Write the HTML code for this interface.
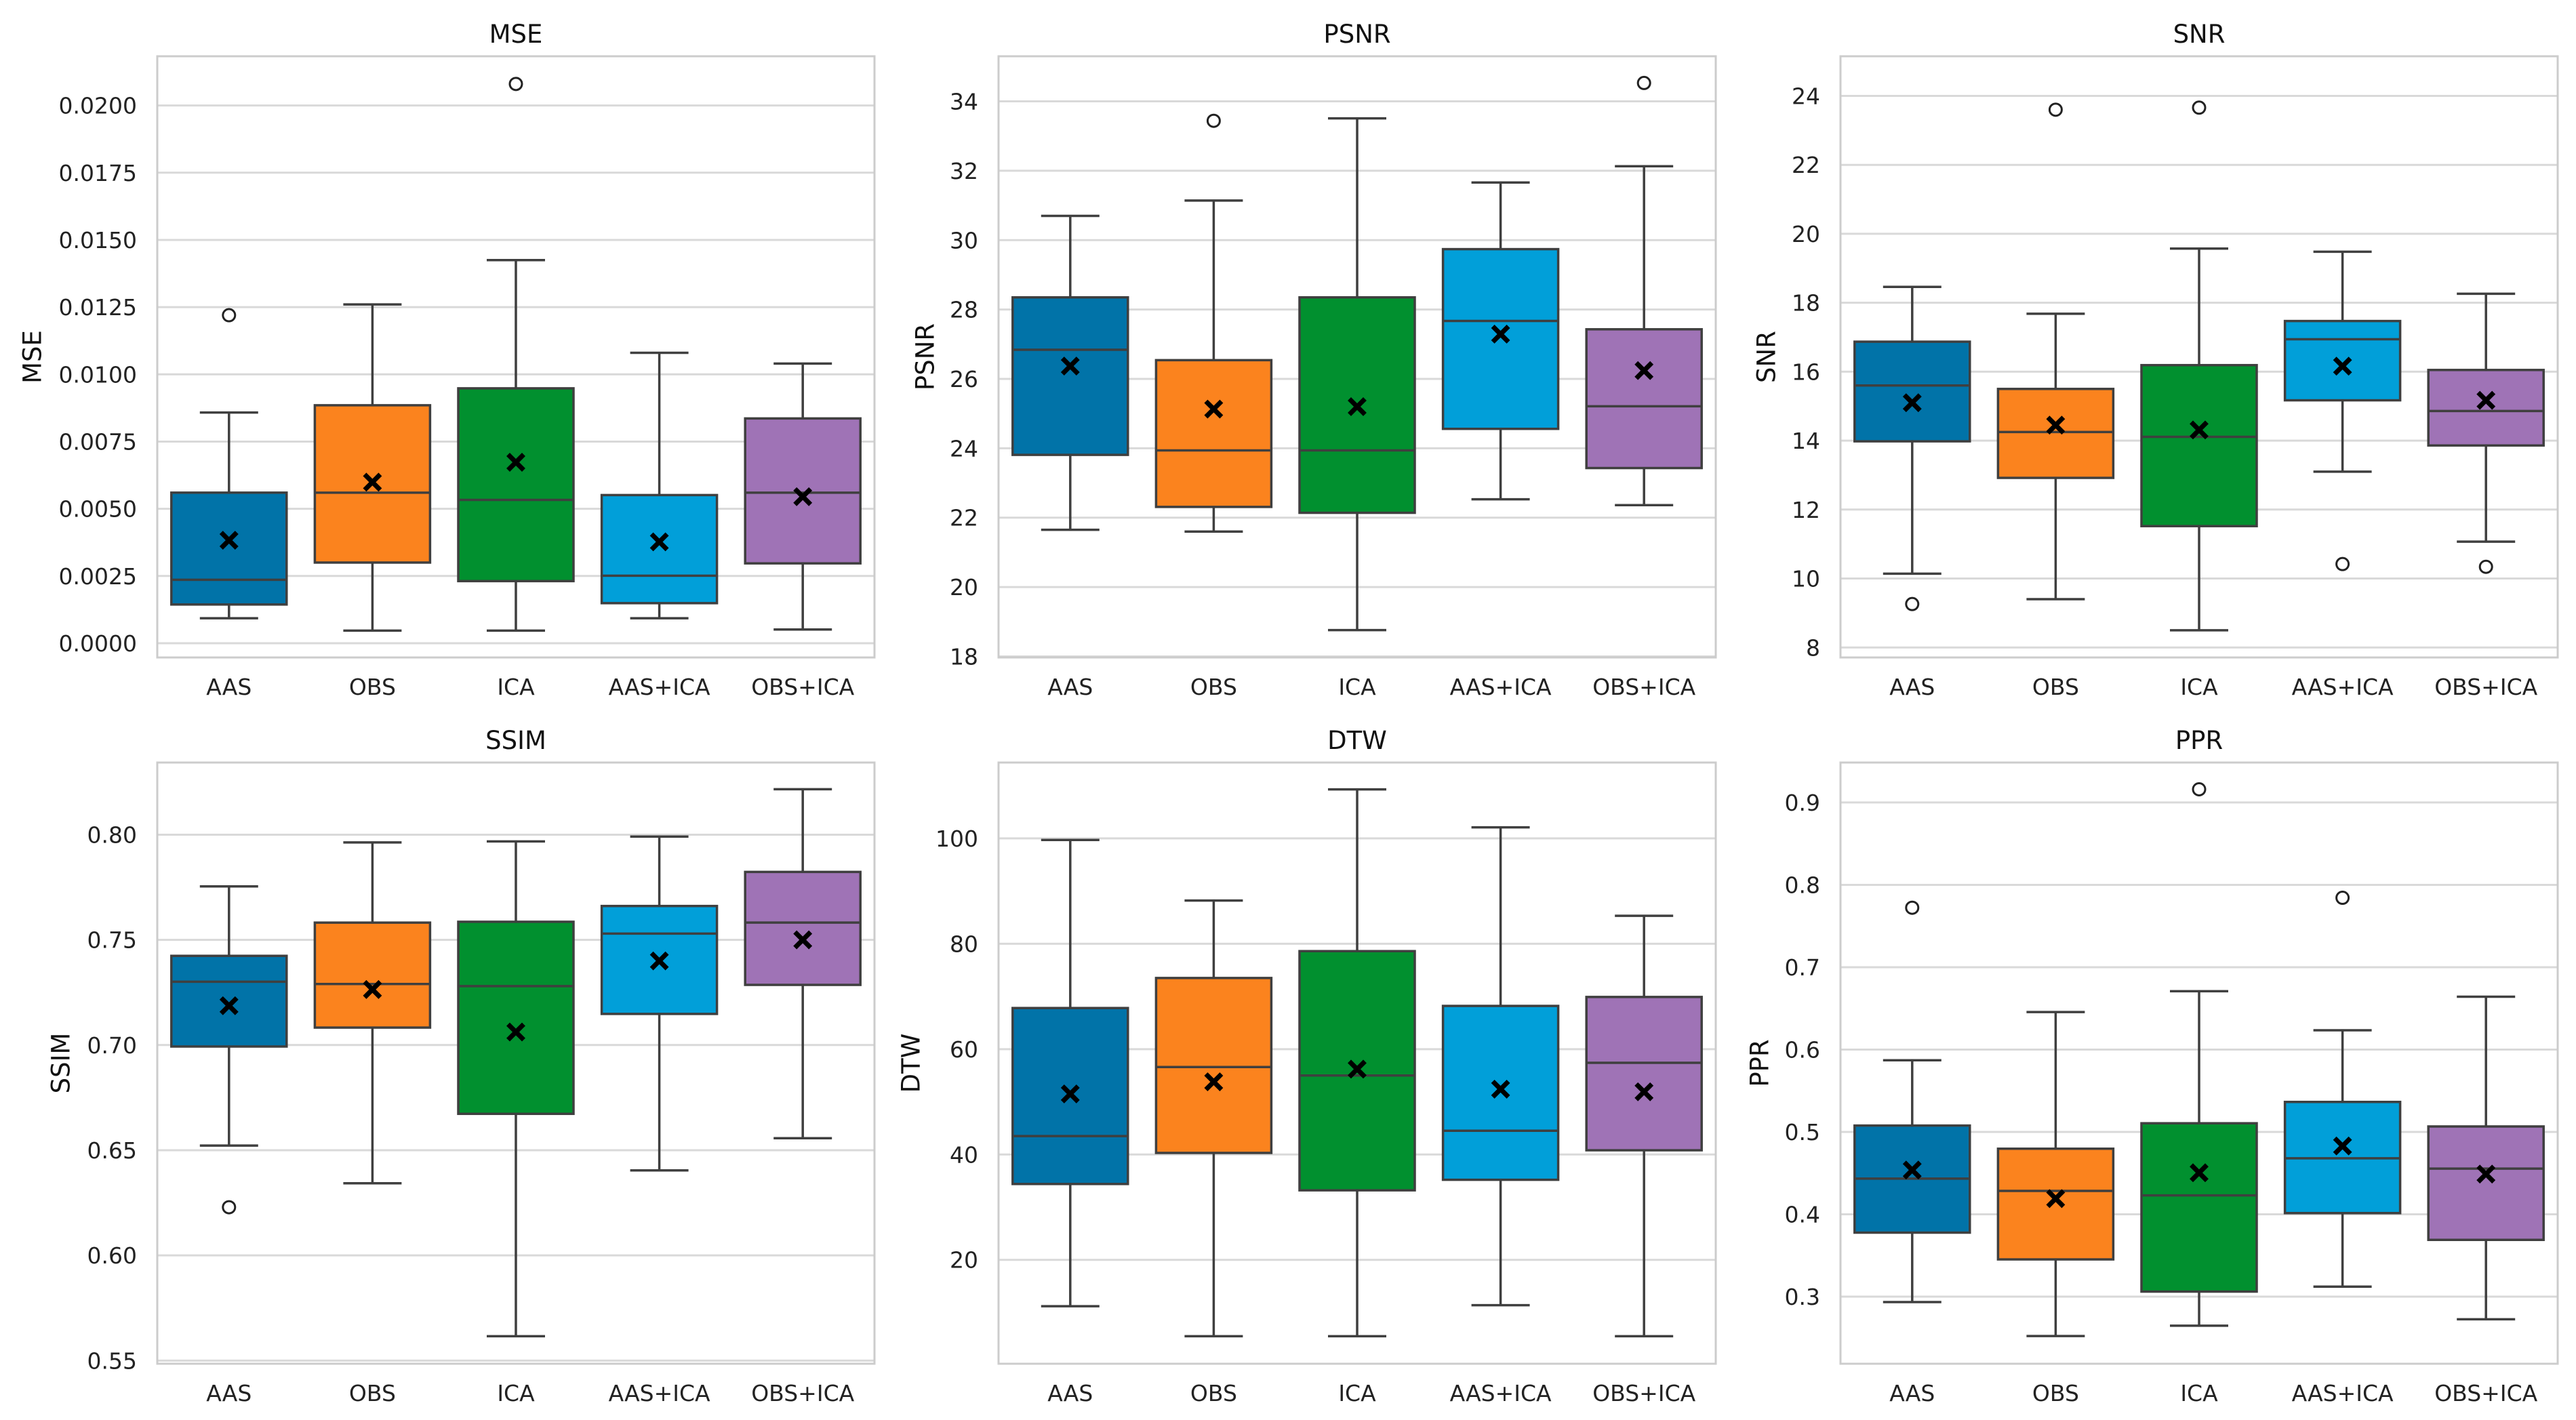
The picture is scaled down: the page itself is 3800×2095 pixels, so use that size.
<!DOCTYPE html>
<html><head><meta charset="utf-8"><style>
html,body{margin:0;padding:0;background:#fff;}
svg{display:block;font-family:"DejaVu Sans","Liberation Sans",sans-serif;}
</style></head><body>
<svg id="chart" width="3800" height="2095" viewBox="0 0 3800 2095" xmlns="http://www.w3.org/2000/svg"></svg>
<script>
const categories = ["AAS","OBS","ICA","AAS+ICA","OBS+ICA"];
const colors = ["#0173a8","#fb831e","#01902f","#019fd9","#9f73b6"];
const metricNames = ["MSE","PSNR","SNR","SSIM","DTW","PPR"];
// per category: [whiskerLow, q1, median, q3, whiskerHigh, mean]
const mseStats = [[0.00093,0.00144,0.00236,0.0056,0.00858,0.00383],[0.00047,0.0030,0.0056,0.00885,0.0126,0.00599],[0.00047,0.00231,0.00533,0.00948,0.01425,0.00673],[0.00093,0.00149,0.00251,0.00551,0.0108,0.00377],[0.00051,0.00297,0.0056,0.00836,0.0104,0.00545]];
const psnrStats = [[21.65,23.81,26.84,28.35,30.70,26.37],[21.60,22.31,23.94,26.54,31.14,25.13],[18.76,22.14,23.94,28.35,33.51,25.20],[22.53,24.56,27.67,29.74,31.66,27.29],[22.36,23.43,25.21,27.43,32.13,26.24]];
const snrStats = [[10.14,13.98,15.60,16.87,18.46,15.10],[9.40,12.92,14.25,15.50,17.68,14.45],[8.50,11.52,14.11,16.19,19.57,14.31],[13.10,15.17,16.94,17.47,19.48,16.16],[11.07,13.86,14.86,16.05,18.26,15.17]];
const ssimStats = [[0.6522,0.6993,0.7301,0.7424,0.7754,0.7187],[0.6343,0.7083,0.7290,0.7582,0.7963,0.7264],[0.5616,0.6673,0.7280,0.7586,0.7968,0.7062],[0.6404,0.7148,0.7530,0.7661,0.7991,0.7400],[0.6557,0.7286,0.7582,0.7823,0.8216,0.7500]];
const dtwStats = [[11.2,34.4,43.5,67.8,99.7,51.5],[5.5,40.3,56.6,73.5,88.2,53.8],[5.5,33.2,55.0,78.6,109.3,56.2],[11.4,35.2,44.5,68.2,102.1,52.4],[5.5,40.8,57.4,69.9,85.3,51.9]];
const pprStats = [[0.2934,0.3777,0.4433,0.5077,0.5870,0.4537],[0.2521,0.3452,0.4284,0.4796,0.6455,0.4190],[0.2647,0.3061,0.4229,0.5105,0.6708,0.4504],[0.3121,0.4014,0.4680,0.5364,0.6234,0.4829],[0.2725,0.3689,0.4554,0.5066,0.6642,0.4488]];
// outliers: [categoryIndex, value]
const mseOutliers = [[0,0.0122],[2,0.0208]];
const psnrOutliers = [[1,33.44],[4,34.53]];
const snrOutliers = [[0,9.26],[1,23.60],[2,23.66],[3,10.42],[4,10.34]];
const ssimOutliers = [[0,0.6229]];
const dtwOutliers = [];
const pprOutliers = [[0,0.7722],[2,0.916],[3,0.7843]];
const mseTicks = [0,0.0025,0.005,0.0075,0.01,0.0125,0.015,0.0175,0.02];
const psnrTicks = [18,20,22,24,26,28,30,32,34];
const snrTicks = [8,10,12,14,16,18,20,22,24];
const ssimTicks = [0.55,0.60,0.65,0.70,0.75,0.80];
const dtwTicks = [20,40,60,80,100];
const pprTicks = [0.3,0.4,0.5,0.6,0.7,0.8,0.9];
const tickDecimals = [4,0,0,2,0,1];
const yDomains = [[-0.00053,0.02183],[17.97,35.30],[7.71,25.15],[0.5485,0.8343],[0.28,114.4],[0.2185,0.9485]];

const allStats=[mseStats,psnrStats,snrStats,ssimStats,dtwStats,pprStats];
const allOut=[mseOutliers,psnrOutliers,snrOutliers,ssimOutliers,dtwOutliers,pprOutliers];
const allTicks=[mseTicks,psnrTicks,snrTicks,ssimTicks,dtwTicks,pprTicks];
const panelLeft=[232,1473,2715,232,1473,2715];
const panelTop=[83,83,83,1125,1125,1125];
const panelW=1058, panelH=887;
const ylabelX=[50,1367,2608,92,1346,2598];

const NS="http://www.w3.org/2000/svg";
const svg=document.getElementById('chart');
function mk(tag,attrs,parent){const e=document.createElementNS(NS,tag);for(const k in attrs)e.setAttribute(k,attrs[k]);(parent||svg).appendChild(e);return e;}

for(let p=0;p<6;p++){
  const L=panelLeft[p],T=panelTop[p],B=T+panelH,R=L+panelW;
  const [d0,d1]=yDomains[p];
  const y=v=>B-(v-d0)/(d1-d0)*panelH;
  const x=i=>L+(i+0.5)*panelW/5;
  const g=mk('g',{});
  
  
  allTicks[p].forEach(t=>{
    const gl=mk('line',{x1:L,x2:R,y1:y(t),y2:y(t),stroke:'#d9d9d9','stroke-width':3},g);
    
    
    const tl=mk('text',{x:L-30,y:y(t)+12,'text-anchor':'end','font-size':33,fill:'#222'},g);
    tl.textContent=t.toFixed(tickDecimals[p]);
    
    
  });
  const fr=mk('rect',{x:L,y:T,width:panelW,height:panelH,fill:'none',stroke:'#cccccc','stroke-width':3},g);
  
  
  const ti=mk('text',{x:(L+R)/2,y:T-20,'text-anchor':'middle','font-size':37,fill:'#111'},g);
  ti.textContent=metricNames[p];
  
  
  const yl=mk('text',{x:ylabelX[p],y:(T+B)/2,'text-anchor':'middle','font-size':37,fill:'#111',transform:'rotate(-90 '+ylabelX[p]+' '+((T+B)/2)+')','dominant-baseline':'middle'},g);
  yl.textContent=metricNames[p];
  
  
  const bw=170, cw=86;
  allStats[p].forEach((s,i)=>{
    const cx=x(i);
    const bg=mk('g',{},g);
    
    
    const st={stroke:'#3f3f3f','stroke-width':3.5};
    mk('line',Object.assign({x1:cx,x2:cx,y1:y(s[0]),y2:y(s[1])},st),bg);
    mk('line',Object.assign({x1:cx,x2:cx,y1:y(s[3]),y2:y(s[4])},st),bg);
    mk('line',Object.assign({x1:cx-cw/2,x2:cx+cw/2,y1:y(s[0]),y2:y(s[0])},st),bg);
    mk('line',Object.assign({x1:cx-cw/2,x2:cx+cw/2,y1:y(s[4]),y2:y(s[4])},st),bg);
    mk('rect',Object.assign({x:cx-bw/2,y:y(s[3]),width:bw,height:y(s[1])-y(s[3]),fill:colors[i]},st),bg);
    mk('line',Object.assign({x1:cx-bw/2,x2:cx+bw/2,y1:y(s[2]),y2:y(s[2])},st),bg);
    const my=y(s[5]);
    const mm=mk('path',{d:`M${cx-9} ${my-9}L${cx+9} ${my+9}M${cx+9} ${my-9}L${cx-9} ${my+9}`,stroke:'#000','stroke-width':7,'stroke-linecap':'square'},bg);
    
    
    const xl=mk('text',{x:cx,y:B+55,'text-anchor':'middle','font-size':33,fill:'#222'},g);
    xl.textContent=categories[i];
    
    
  });
  allOut[p].forEach(o=>{
    const c=mk('circle',{cx:x(o[0]),cy:y(o[1]),r:9,fill:'none',stroke:'#222','stroke-width':3},g);
    
    
  });
}
</script>
</body></html>
